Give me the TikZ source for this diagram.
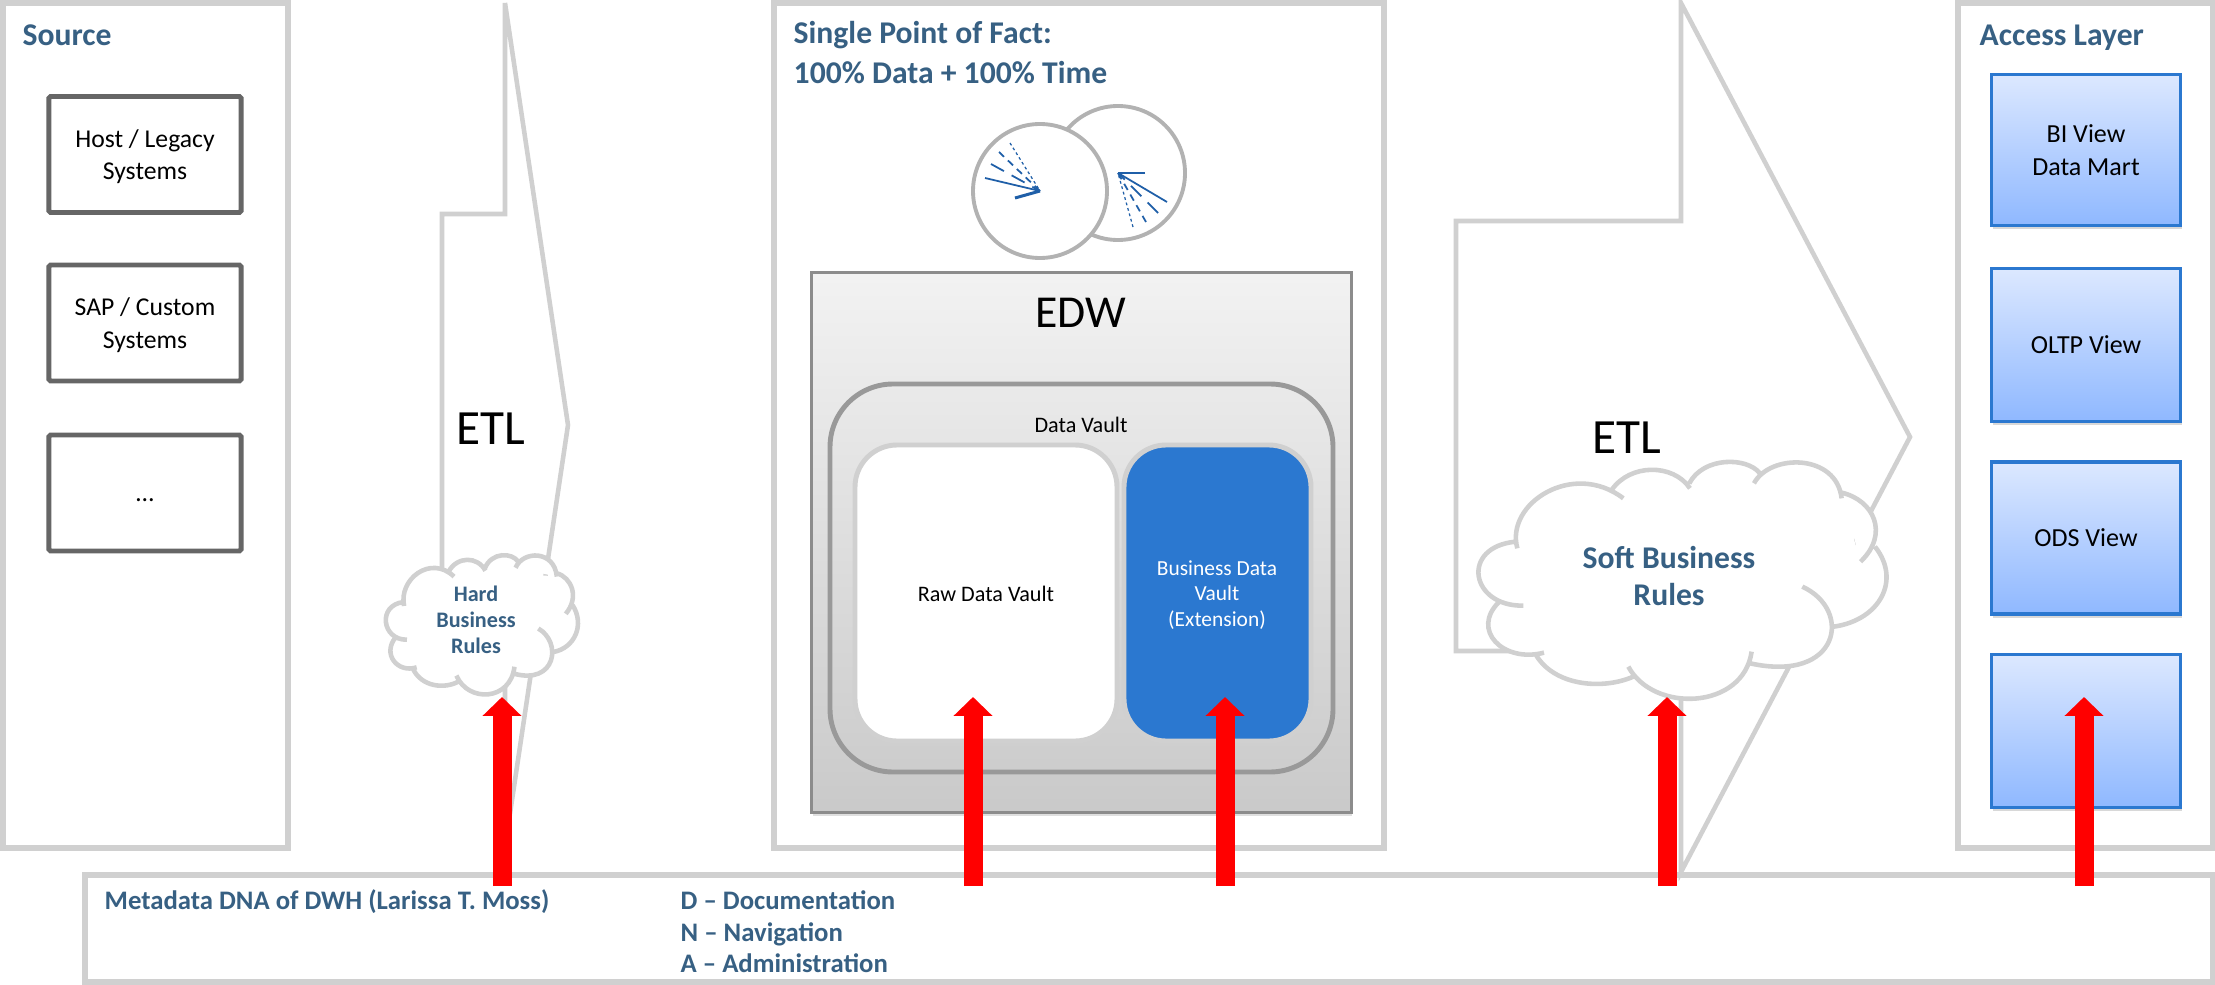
\documentclass[tikz,border=0pt]{standalone}
\usepackage{fontspec}
\setmainfont{Carlito}
\usetikzlibrary{arrows.meta,shadows}

\definecolor{panelgray}{HTML}{D0D0D0}
\definecolor{headblue}{HTML}{376083}
\definecolor{viewblue}{HTML}{2B78D0}
\definecolor{viewtop}{HTML}{DCE8FF}
\definecolor{viewbottom}{HTML}{8FB8FF}
\definecolor{clockblue}{HTML}{1F5FA8}

\tikzset{
	panel/.style={draw=panelgray,line width=1.5pt,fill=white},
	srcbox/.style={draw=black!60,line width=1.4pt,rounded corners=.5pt,fill=white,align=center,text depth=0pt,
		minimum width=1.92cm,minimum height=1.16cm,font=\fontsize{7.3}{9.2}\selectfont},
	viewbox/.style={draw=viewblue,line width=1pt,top color=viewtop,bottom color=viewbottom,align=center,text depth=0pt,
		minimum width=1.89cm,drop shadow={shadow xshift=0.3pt,shadow yshift=-1pt,opacity=.3},font=\fontsize{7.4}{9.2}\selectfont},
	head/.style={text=headblue,inner sep=0pt,font=\fontsize{9}{11.2}\selectfont\bfseries,anchor=north west,align=left},
	metahead/.style={head,font=\fontsize{7.6}{9}\selectfont\bfseries},
	ruletext/.style={text=headblue,align=center},
	metaarrow/.style={line width=5.4pt,red,-{Triangle[length=5.4pt,width=10.8pt]}},
	etl/.style={font=\fontsize{14}{16}\selectfont},
	hand/.style={clockblue,line cap=butt},
	longdash/.style={hand,line width=.5pt,dash pattern=on 4.2pt off 2.5pt},
	shortdash/.style={hand,line width=.5pt,dash pattern=on 2pt off 1.5pt},
	finedots/.style={hand,line width=.35pt,dash pattern=on .8pt off .8pt}
}

% one lobe per subpath
\def\cloudlobes{
	(232,325) .. controls (195,190) and (400,60) .. (550,175)
	(515,150) .. controls (570,70) and (700,70) .. (750,145)
	(748,130) .. controls (790,50) and (920,50) .. (960,100)
	(942,130) .. controls (990,40) and (1190,40) .. (1205,175)
	(1205,158) .. controls (1300,180) and (1350,280) .. (1262,365)
	(1305,320) .. controls (1385,420) and (1320,540) .. (1182,560)
	(1087,440) .. controls (1240,510) and (1200,730) .. (930,670)
	(935,635) .. controls (910,810) and (640,820) .. (565,680)
	(580,710) .. controls (490,750) and (340,740) .. (285,640)
	(312,638) .. controls (190,670) and (90,570) .. (178,485)
	(250,497) .. controls (90,500) and (60,320) .. (228,305)
}
\newcommand{\cloudshape}[4]{% x, y, xscale, yscale
	\begin{scope}[shift={(#1,#2)},x=#3*0.01cm,y=#4*-0.01cm]
		\fill[white] \cloudlobes;
		\fill[white] (228,305) -- (550,175) -- (750,145) -- (1205,175) -- (1262,365) -- (1182,560) -- (930,670) -- (565,680) -- (285,640) -- (178,485) -- cycle;
		\draw[panelgray,line width=1.3pt,line cap=butt] \cloudlobes;
	\end{scope}
}

\begin{document}
\begin{tikzpicture}[x=0.01cm,y=-0.01cm]
	\useasboundingbox (0,0) rectangle (2215,985);

	% Panels
	\draw[panel] (3,3) rectangle (288,848);
	\draw[panel] (774,3) rectangle (1384,848);
	\draw[panel] (1958,3) rectangle (2213,848);
	\draw[panel] (85,875) rectangle (2213,982);
	\node[head] (sourcehead) at (22,24) {Source};
	\node[head] (facthead) at (793,21) {Single Point of Fact:\\100\% Data + 100\% Time};
	\node[head] (accesshead) at (1979,24) {Access Layer};

	% Source systems
	\node[srcbox] (host) at (145,154.5) {Host / Legacy\\Systems};
	\node[srcbox] (sap) at (145,323) {SAP / Custom\\Systems};
	\node[srcbox] (dots) at (145,493) {\vphantom{Hg}…};

	% ETL arrows
	\draw[panelgray,line width=1.3pt,fill=white] (505,3) -- (568,425) -- (505,847) -- (505,636) -- (442,636) -- (442,214) -- (505,214) -- cycle;
	\node[etl] (etlhard) at (491,429) {ETL};
	\draw[panelgray,line width=1.3pt,fill=white] (1681,3) -- (1910,437) -- (1681,872) -- (1681,651) -- (1456,651) -- (1456,221) -- (1681,221) -- cycle;
	\node[etl] (etlsoft) at (1627,438) {ETL};

	% Clouds
	\cloudshape{367.7}{542.3}{0.157}{0.196}
	\cloudshape{1440}{440}{0.3333}{0.3333}
	\node[ruletext,font=\fontsize{6.3}{7.4}\selectfont\bfseries] (hardrules) at (476,620) {Hard\\Business\\Rules};
	\node[ruletext,font=\fontsize{9}{10.8}\selectfont\bfseries] (softrules) at (1669,576) {Soft Business\\Rules};

	% Clocks
	\draw[gray!60,line width=1.1pt,fill=white] (1118,173) circle (67);
	\draw[gray!60,line width=1.1pt,fill=white] (1040,191) circle (67);
	\draw[hand,line width=.85pt] (1015,198) -- (1040,191);
	\draw[hand,line width=.5pt] (985,178) -- (1040,191);
	\draw[longdash] (991,164) -- (1040,191);
	\draw[shortdash] (999,152) -- (1040,191);
	\draw[finedots] (1010,143) -- (1040,191);
	\draw[hand,line width=.85pt] (1145,173) -- (1118,173);
	\draw[hand,line width=.5pt] (1167,202) -- (1118,173);
	\draw[longdash] (1158,213) -- (1118,173);
	\draw[shortdash] (1146,222) -- (1118,173);
	\draw[finedots] (1133,227) -- (1118,173);

	% EDW
	\node[draw=black!45,line width=.9pt,top color=black!5,bottom color=black!21,minimum width=5.39cm,minimum height=5.39cm,
		drop shadow={shadow xshift=0.3pt,shadow yshift=-1pt,opacity=.25}] (edw) at (1081.5,542.5) {};
	\node[font=\fontsize{13}{15}\selectfont] (edwlabel) at (1081,313) {EDW};
	\draw[black!40,line width=1.4pt,rounded corners=0.63cm] (830,384) rectangle (1333,772);
	\node[font=\fontsize{6.3}{7.6}\selectfont] (vaultlabel) at (1081,425) {Data Vault};
	\draw[panelgray,line width=1.4pt,fill=white,rounded corners=0.42cm] (855,445) rectangle (1117,741);
	\draw[panelgray,line width=1.4pt,fill=viewblue,rounded corners=0.42cm] (1124,445) rectangle (1311,741);
	\node[font=\fontsize{6.3}{7.6}\selectfont] (rawlabel) at (986,594) {Raw Data Vault};
	\node[white,align=center,font=\fontsize{6.1}{7.3}\selectfont] (bizlabel) at (1217,595) {Business Data\\Vault\\(Extension)};

	% Access views
	\node[viewbox,minimum height=1.51cm] (biview) at (2086,150) {BI View\\Data Mart};
	\node[viewbox,minimum height=1.53cm] (oltpview) at (2086,345) {OLTP View};
	\node[viewbox,minimum height=1.52cm] (odsview) at (2086,538) {ODS View};
	\node[viewbox,minimum height=1.53cm] (lastview) at (2086,731) {};

	% Metadata
	\node[metahead] (metatitle) at (104,889) {Metadata DNA of DWH (Larissa T. Moss)};
	\node[metahead] (dnalist) at (680,890) {D -- Documentation\\N -- Navigation\\A -- Administration};

	% Metadata arrows
	\foreach \name/\px in {hard/502,raw/973,biz/1225,soft/1667,view/2084}{
		\coordinate (meta\name) at (\px,886);
		\coordinate (tip\name) at (\px,697);
		\draw[metaarrow] (meta\name) -- (tip\name);
	}
\end{tikzpicture}
\end{document}
